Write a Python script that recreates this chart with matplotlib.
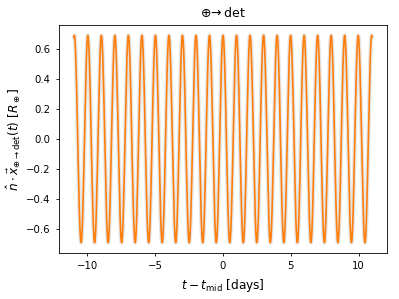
import numpy as np
import matplotlib
matplotlib.use("Agg")
import matplotlib.pyplot as plt

# values
t_range = [-11.0, 11.0]      # days from t_mid
amplitude = 0.69             # R_earth
period = 0.9973              # sidereal day
t_min_phase = 0.5            # time of a trough
n_samples = 4000

x_ticks = [-10, -5, 0, 5, 10]
y_ticks = [-0.6, -0.4, -0.2, 0.0, 0.2, 0.4, 0.6]

t = np.linspace(t_range[0], t_range[1], n_samples)
proj = -amplitude * np.cos(2 * np.pi * (t - t_min_phase) / period)

fig = plt.figure(figsize=(3.99, 2.99), dpi=100)
ax = fig.add_axes([59 / 399, 1 - 253 / 299, 328 / 399, 228 / 299])

ax.plot(t, proj, color="grey", lw=3.0, alpha=0.2)
ax.plot(t, proj, color="C1", lw=1.2)

ax.set_xticks(x_ticks)
ax.set_yticks(y_ticks)
ax.tick_params(length=2.5, width=0.6, labelsize=7.3)
for s in ax.spines.values():
    s.set_linewidth(0.6)

ax.set_title(r"$\oplus\!\rightarrow$det", fontsize=9)
ax.set_xlabel(r"$t - t_{\rm mid}$ [days]", fontsize=8.7)
ax.set_ylabel(r"$\hat{n}\cdot\vec{x}_{\oplus\rightarrow{\rm det}}(t)$ [$R_\oplus$]",
              fontsize=8.7, labelpad=2)

fig.savefig("out.png", dpi=100)
